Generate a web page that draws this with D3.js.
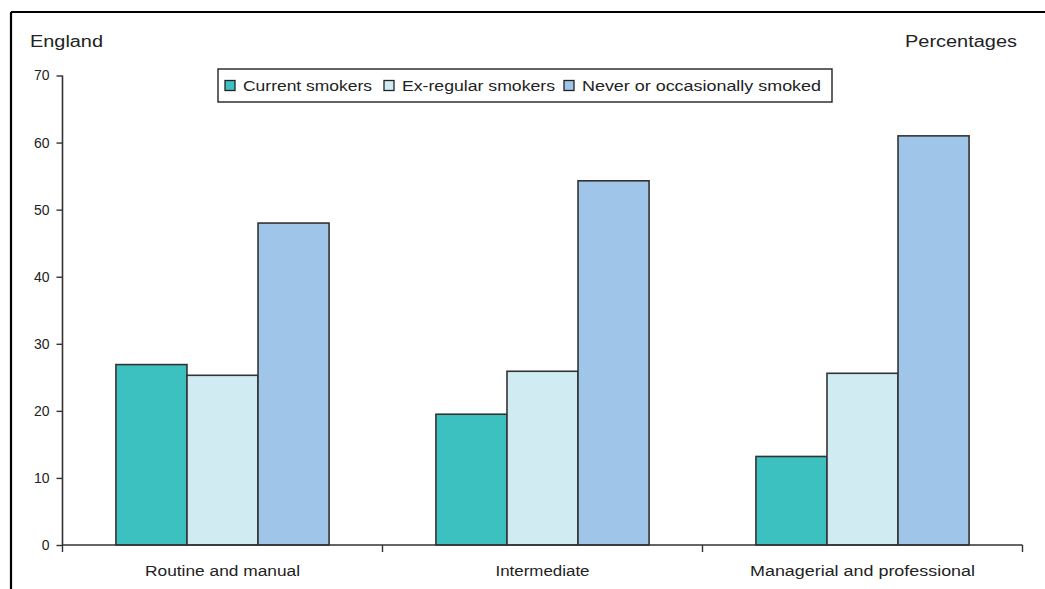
<!DOCTYPE html>
<html>
<head>
<meta charset="utf-8">
<script src="https://cdn.jsdelivr.net/npm/d3@7"></script>
<style>
  html, body { margin: 0; padding: 0; background: #fff; }
  svg { display: block; }
  text { font-family: "Liberation Sans", Arial, sans-serif; fill: #222; }
</style>
</head>
<body>
<svg id="chart" width="1045" height="589"></svg>
<script>
// Smoking status by socio-economic classification, England (percentages)
const categories = ["Routine and manual", "Intermediate", "Managerial and professional"];
const seriesNames = ["Current smokers", "Ex-regular smokers", "Never or occasionally smoked"];
const currentSmokers = [26.9, 19.5, 13.2];
const exRegularSmokers = [25.3, 25.9, 25.6];
const neverSmoked = [48.0, 54.3, 61.0];
const yTicks = [0, 10, 20, 30, 40, 50, 60, 70];
const colors = ["#3cc0c0", "#d0ecf2", "#9fc5e8"];

const seriesValues = [currentSmokers, exRegularSmokers, neverSmoked];
const rows = categories.map((c, i) => ({
  category: c,
  values: seriesNames.map((s, j) => ({ series: s, value: seriesValues[j][i], idx: j }))
}));

const svg = d3.select("#chart");

// Outer frame: top and left rules
svg.append("line").attr("x1", 11).attr("x2", 1045).attr("y1", 12).attr("y2", 12)
  .attr("stroke", "#000").attr("stroke-width", 2.2);
svg.append("line").attr("x1", 11).attr("x2", 11).attr("y1", 12).attr("y2", 589)
  .attr("stroke", "#000").attr("stroke-width", 2.2);

const plot = { left: 62.5, right: 1022.5, top: 75.5, bottom: 545 };

const x = d3.scaleBand().domain(categories).range([plot.left, plot.right]).paddingInner(0).paddingOuter(0);
const groupWidth = x.bandwidth() * 0.666;
const x1 = d3.scaleBand().domain(seriesNames).range([0, groupWidth]).padding(0);
const y = d3.scaleLinear().domain([0, 70]).range([plot.bottom, plot.top]);

// Bars
const groups = svg.append("g").selectAll("g").data(rows).join("g")
  .attr("transform", d => `translate(${x(d.category) + (x.bandwidth() - groupWidth) / 2},0)`);
groups.selectAll("rect").data(d => d.values).join("rect")
  .attr("x", d => x1(d.series))
  .attr("y", d => y(d.value))
  .attr("width", x1.bandwidth())
  .attr("height", d => y(0) - y(d.value))
  .attr("fill", d => colors[d.idx])
  .attr("stroke", "#333")
  .attr("stroke-width", 1.6);

// Y axis
const yAxis = svg.append("g").attr("transform", `translate(${plot.left},0)`)
  .call(d3.axisLeft(y).tickValues(yTicks).tickSize(6).tickPadding(7).tickFormat(d3.format("d")));
yAxis.select(".domain").attr("stroke", "#333").attr("stroke-width", 1.6).attr("d", `M0,${plot.top}V${plot.bottom}`);
yAxis.selectAll(".tick line").attr("stroke", "#333").attr("stroke-width", 1.4);
yAxis.selectAll(".tick text").style("font-size", "14px").style("fill", "#222")
  .attr("font-family", "Liberation Sans, Arial, sans-serif");

// X axis with boundary ticks between categories
const xAxisG = svg.append("g").attr("transform", `translate(0,${plot.bottom})`);
xAxisG.append("line").attr("x1", plot.left).attr("x2", plot.right)
  .attr("stroke", "#333").attr("stroke-width", 1.6);
const boundaries = categories.map(c => x(c)).concat([x(categories[categories.length - 1]) + x.bandwidth()]);
xAxisG.selectAll("line.tk").data(boundaries).join("line").attr("class", "tk")
  .attr("x1", d => d).attr("x2", d => d).attr("y1", 0).attr("y2", 7)
  .attr("stroke", "#333").attr("stroke-width", 1.4);
const catWidths = [155, 94, 225];
xAxisG.selectAll("text").data(categories).join("text")
  .attr("x", d => x(d) + x.bandwidth() / 2)
  .attr("y", 31)
  .attr("text-anchor", "middle")
  .attr("textLength", (d, i) => catWidths[i])
  .attr("lengthAdjust", "spacingAndGlyphs")
  .style("font-size", "14px")
  .text(d => d);

// Titles
svg.append("text").attr("x", 30).attr("y", 47).style("font-size", "16px")
  .attr("textLength", 73).attr("lengthAdjust", "spacingAndGlyphs").text("England");
svg.append("text").attr("x", 1017).attr("y", 47).attr("text-anchor", "end").style("font-size", "16px")
  .attr("textLength", 112).attr("lengthAdjust", "spacingAndGlyphs").text("Percentages");

// Legend
const legend = svg.append("g");
legend.append("rect").attr("x", 218).attr("y", 69).attr("width", 614).attr("height", 33)
  .attr("fill", "#fff").attr("stroke", "#222").attr("stroke-width", 1.4);
const legendX = [225, 384, 564];
const legendW = [129, 153, 239];
const items = legend.selectAll("g.item").data(seriesNames).join("g").attr("class", "item")
  .attr("transform", (d, i) => `translate(${legendX[i]},0)`);
items.append("rect").attr("x", 0).attr("y", 80.5).attr("width", 10).attr("height", 10)
  .attr("fill", (d, i) => colors[i]).attr("stroke", "#222").attr("stroke-width", 1.3);
items.append("text").attr("x", 18).attr("y", 91).style("font-size", "14px")
  .attr("textLength", (d, i) => legendW[i]).attr("lengthAdjust", "spacingAndGlyphs")
  .text(d => d);
</script>
</body>
</html>
